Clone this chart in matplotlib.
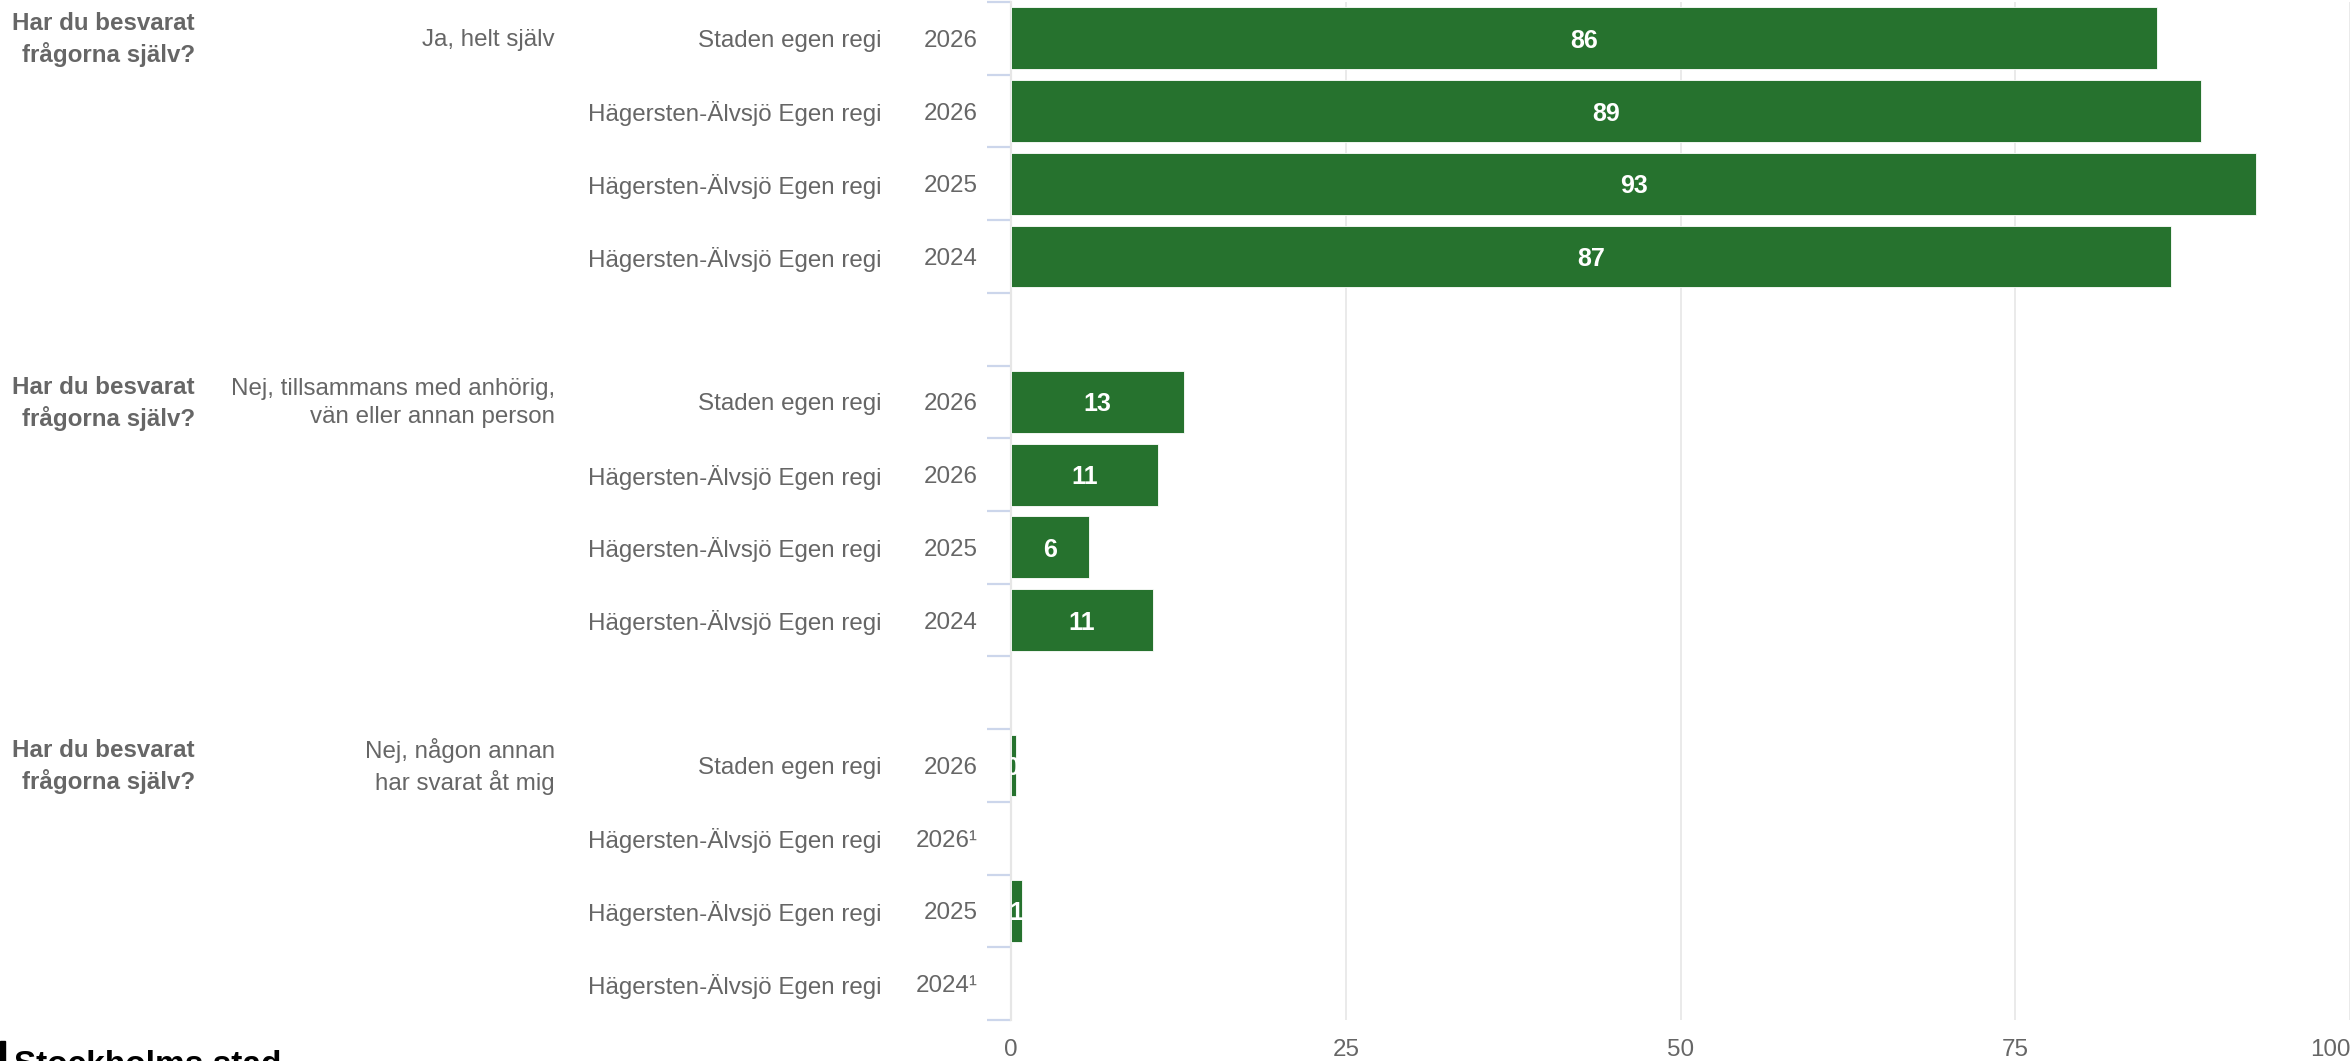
#!/usr/bin/env python3
import sys

import matplotlib
matplotlib.use("Agg")
import matplotlib.pyplot as plt
from matplotlib import transforms
import numpy as np

plt.rcParams['font.family'] = ['Liberation Sans', 'DejaVu Sans']

question = "Har du besvarat\nfrågorna själv?"
answers = ["Ja, helt själv",
		   "Nej, tillsammans med anhörig,\nvän eller annan person",
		   "Nej, någon annan\nhar svarat åt mig"]
units = ["Staden egen regi", "Hägersten-Älvsjö Egen regi",
		 "Hägersten-Älvsjö Egen regi", "Hägersten-Älvsjö Egen regi"]
years = [["2026", "2026", "2025", "2024"],
		 ["2026", "2026", "2025", "2024"],
		 ["2026", "2026¹", "2025", "2024¹"]]
# bar lengths (percent) and the printed labels
values = [[85.6, 88.9, 93.0, 86.6],
		  [12.9, 11.0, 5.8, 10.6],
		  [0.35, np.nan, 0.8, np.nan]]
labels = [["86", "89", "93", "87"],
		  ["13", "11", "6", "11"],
		  ["0", "", "1", ""]]
x_ticks = [0, 25, 50, 75, 100]

W, H = 2350, 1061
BAR_COLOR = "#26722e"
TEXT_COLOR = "#666666"
FS = 17.4


def main():
	fig = plt.figure(figsize=(W / 100, H / 100), dpi=100)
	ax = fig.add_axes([1011 / W, 1 - 1020 / H, 1339 / W, 1018 / H])

	n_groups = len(values)
	rows = len(units)
	slot = rows + 1
	total = n_groups * slot - 1

	for g in range(n_groups):
		ys = [g * slot + i + 0.5 for i in range(rows)]
		ax.barh(ys, values[g], height=0.85, color=BAR_COLOR,
				edgecolor="white", linewidth=0.6, zorder=3)
		for i in range(rows):
			if np.isnan(values[g][i]):
				continue
			ax.text(values[g][i] / 2, ys[i], labels[g][i], color="white",
					fontsize=FS + 0.6, fontweight="bold", ha="center",
					va="center_baseline", zorder=4, clip_on=True)

	ax.set_ylim(total, 0)
	ax.set_xlim(0, 100)

	# category ticks only at the borders of rows inside each group
	tick_pos = [g * slot + k for g in range(n_groups) for k in range(rows + 1)]
	ax.set_yticks(tick_pos)
	ax.set_yticklabels([])
	ax.tick_params(axis='y', length=17, width=1.6, color="#ccd6eb",
				   direction='out')

	ax.set_xticks(x_ticks)
	ax.tick_params(axis='x', length=0, pad=14, labelsize=FS,
				   labelcolor=TEXT_COLOR)
	ax.get_xticklabels()[-1].set_horizontalalignment('right')

	ax.grid(axis='x', color="#e6e6e6", linewidth=1.2, zorder=0)
	ax.set_axisbelow(True)
	for side in ['top', 'right', 'bottom']:
		ax.spines[side].set_visible(False)
	ax.spines['left'].set_color("#e6e6e6")
	ax.spines['left'].set_linewidth(1.6)

	trans = transforms.blended_transform_factory(fig.transFigure, ax.transData)
	for g in range(n_groups):
		y0 = g * slot + 0.5
		fig.text(195 / W, y0 + 0.02, question, transform=trans, ha='right',
				 va='center', fontsize=FS, fontweight='bold',
				 color=TEXT_COLOR, linespacing=1.35)
		fig.text(555 / W, y0 + 0.02, answers[g], transform=trans, ha='right',
				 va='center', fontsize=FS, color=TEXT_COLOR, linespacing=1.35)
		for i in range(rows):
			y = g * slot + i + 0.5
			fig.text(882 / W, y, units[i], transform=trans, ha='right',
					 va='center_baseline', fontsize=FS, color=TEXT_COLOR)
			fig.text(978 / W, y, years[g][i], transform=trans, ha='right',
					 va='center_baseline', fontsize=FS, color=TEXT_COLOR)

	# logo, cut off at the bottom edge as in the source
	fig.patches.append(plt.Rectangle((0, 0), 5 / W, 20 / H, color="black",
									 transform=fig.transFigure))
	fig.text(14 / W, 1 - 1050 / H, "Stockholms stad", ha='left', va='top',
			 fontsize=24, fontweight='bold', color="black")

	sys.stderr.write("Saving out.png...\n")
	fig.savefig("out.png", dpi=100)
	plt.close(fig)


if __name__ == "__main__":
	main()
